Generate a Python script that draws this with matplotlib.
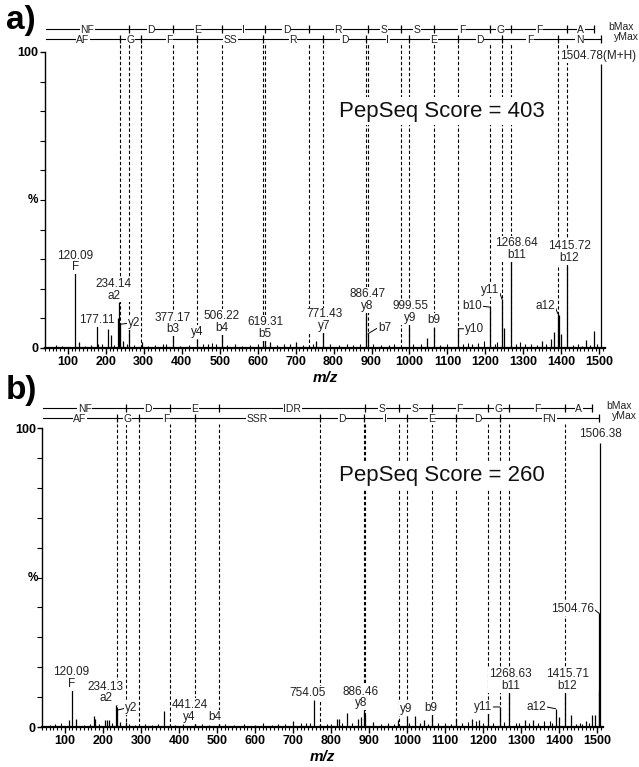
import matplotlib
matplotlib.use('Agg')
import matplotlib.pyplot as plt
from matplotlib.ticker import MultipleLocator, FixedLocator

plt.rcParams['font.family'] = ['Liberation Sans', 'DejaVu Sans']

# ---------------- data ----------------
X_MIN, X_MAX = 40, 1515

# theoretical fragment ions (m/z)
b_ions = {2: 262.12, 3: 377.15, 4: 506.19, 5: 619.27, 6: 734.30, 7: 890.40,
          8: 977.43, 9: 1064.46, 10: 1211.53, 11: 1268.55, 12: 1415.62, 13: 1486.66}
y_ions = {2: 237.12, 3: 294.15, 4: 441.21, 5: 528.25, 6: 615.28, 7: 771.38, 8: 886.41,
          9: 999.49, 10: 1128.53, 11: 1243.56, 12: 1390.63, 13: 1504.67}

# panel a
a_b_found = [2, 3, 4, 5, 6, 7, 8, 9, 10, 11, 12, 13]
a_b_letters = ["NF", "D", "E", "I", "D", "R", "S", "S", "F", "G", "F", "A"]
a_y_found = [2, 3, 4, 6, 7, 8, 9, 10, 11, 12, 13]
a_y_letters = ["AF", "G", "F", "SS", "R", "D", "I", "E", "D", "F", "N"]

a_peak_mz = [120.09, 130, 177.11, 205, 215, 232, 234.14, 237.12, 245, 262.12, 296,
             377.17, 441.21, 506.22, 615.3, 619.31, 632, 700, 755, 771.43, 886.47,
             890.40, 999.55, 1045, 1064.47, 1128.53, 1211.54, 1243.56, 1250, 1268.64,
             1350, 1372, 1380, 1390.60, 1395, 1400, 1415.72, 1465, 1485, 1504.78]
a_peak_int = [25.3, 2.0, 7.3, 6.5, 4.3, 10.0, 15.7, 8.0, 2.4, 6.5, 2.0,
              4.3, 3.1, 4.8, 2.5, 2.8, 2.0, 2.0, 2.2, 5.4, 11.9,
              4.8, 7.9, 3.5, 7.1, 6.5, 13.8, 16.5, 6.9, 29.5,
              2.4, 3.1, 5.4, 11.6, 11.0, 4.8, 28.4, 2.8, 5.7, 96.0]
a_noise_mz = [70, 85, 145, 160, 180, 190, 222, 255, 275, 310, 330, 350, 360, 395, 420,
              455, 470, 480, 490, 520, 540, 560, 580, 600, 650, 670, 685, 720, 745,
              790, 815, 835, 850, 870, 905, 925, 945, 960, 1010, 1030, 1080, 1100,
              1140, 1155, 1165, 1180, 1195, 1225, 1230, 1280, 1290, 1305, 1320, 1335,
              1360, 1430, 1445, 1455, 1475, 1495]
a_noise_int = [1.0, 0.8, 0.8, 1.0, 1.5, 1.2, 1.0, 1.2, 1.0, 0.8, 1.0, 1.2, 1.5, 0.8, 1.0,
               1.2, 1.5, 1.8, 1.2, 1.0, 1.2, 0.8, 1.0, 1.5, 1.0, 1.2, 1.5, 1.0, 1.5,
               1.2, 1.0, 1.2, 1.0, 1.5, 1.2, 1.0, 1.0, 1.2, 1.5, 1.2, 1.0, 1.2,
               1.5, 1.8, 1.5, 1.8, 2.2, 1.5, 2.0, 1.5, 2.0, 1.5, 1.2, 1.0,
               1.5, 1.0, 1.2, 0.8, 1.0, 1.5]
a_label_mz = [120.09, 177.11, 234.14, 237.12, 377.17, 441.21, 506.22, 619.31, 771.43,
              886.47, 890.40, 999.55, 1064.47, 1128.53, 1211.54, 1243.56, 1268.64,
              1390.60, 1415.72, 1504.78]
a_label_text = ["120.09\nF", "177.11", "234.14\na2", "y2", "377.17\nb3", "y4", "506.22\nb4",
                "619.31\nb5", "771.43\ny7", "886.47\ny8", "b7", "999.55\ny9", "b9", "y10",
                "b10", "y11", "1268.64\nb11", "a12", "1415.72\nb12", "1504.78(M+H)"]

# panel b
b_b_found = [2, 3, 4, 7, 8, 9, 10, 11, 12, 13]
b_b_letters = ["NF", "D", "E", "IDR", "S", "S", "F", "G", "F", "A"]
b_y_found = [2, 3, 4, 7, 8, 9, 10, 11, 13]
b_y_letters = ["AF", "G", "F", "SSR", "D", "I", "E", "D", "FN"]

b_peak_mz = [110, 120.09, 130, 177, 180, 205, 210, 215, 234.13, 237.12, 245, 262, 360,
             441.24, 506.19, 700, 754.05, 772, 815, 820, 842, 870, 880, 886.46, 890.40,
             910, 977, 999.49, 1020, 1045, 1064.46, 1128, 1170, 1190, 1211.53, 1243.56,
             1268.63, 1310, 1330, 1390.63, 1400, 1415.71, 1432, 1470, 1485, 1495,
             1504.76, 1505.5, 1506.38]
b_peak_int = [2.5, 12.5, 2.8, 3.7, 2.8, 2.5, 2.5, 2.5, 7.2, 5.6, 1.7, 1.7, 5.2,
              1.1, 1.0, 1.9, 8.9, 1.1, 2.8, 2.8, 4.8, 2.8, 3.3, 5.6, 3.9,
              1.7, 2.2, 3.7, 3.7, 2.2, 3.9, 2.8, 2.8, 2.2, 5.6, 6.7,
              11.4, 2.2, 2.5, 6.1, 3.3, 11.4, 4.1, 1.9, 3.9, 3.9,
              38.0, 12.0, 95.0]
b_noise_mz = [60, 75, 90, 150, 165, 190, 225, 270, 285, 310, 330, 345, 390, 410, 460,
              480, 520, 545, 570, 600, 620, 645, 660, 680, 720, 735, 745, 790, 800,
              830, 855, 930, 950, 965, 1005, 1035, 1055, 1080, 1100, 1115, 1145, 1160,
              1180, 1200, 1225, 1255, 1285, 1295, 1320, 1345, 1360, 1375, 1380, 1445,
              1455, 1460, 1478]
b_noise_int = [0.8, 1.0, 1.2, 0.8, 1.0, 1.0, 1.2, 1.0, 0.8, 1.0, 0.8, 1.0, 0.8, 1.0, 1.0,
               0.8, 1.0, 0.8, 1.0, 0.8, 1.2, 0.8, 1.0, 1.0, 1.2, 1.5, 1.2, 1.0, 1.0,
               1.2, 1.5, 1.0, 1.2, 1.0, 1.5, 1.2, 1.0, 1.5, 1.2, 1.0, 1.5, 1.8,
               2.0, 1.5, 1.5, 1.8, 1.5, 1.2, 1.5, 1.2, 2.0, 2.0, 1.5, 1.0,
               1.2, 1.0, 1.5]
b_label_mz = [120.09, 234.13, 237.12, 441.24, 506.19, 754.05, 886.46, 999.49, 1064.46,
              1243.56, 1268.63, 1390.63, 1415.71, 1504.76, 1506.38]
b_label_text = ["120.09\nF", "234.13\na2", "y2", "441.24\ny4", "b4", "754.05", "886.46\ny8",
                "y9", "b9", "y11", "1268.63\nb11", "a12", "1415.71\nb12", "1504.76", "1506.38"]

# ---------------- styles ----------------
PX = 0.72  # points per pixel at dpi 100
a_label_style = [('top', 0, 0), ('top', 0, 0), ('top', -5, 0), ('right', 8, 1),
                 ('top', 0, 0), ('top', 0, 1), ('top', 0, 0), ('top', 0, 0), ('top', 2, 0),
                 ('top', 1, 1), ('right', 10, 6), ('top', 1, 1), ('top', 0, 1), ('right', 7, 0),
                 ('left', -8, 1), ('left', -3, 9), ('top', 5, 0), ('left', -3, 8),
                 ('top', 2, 0), ('top', -3, 2)]
b_label_style = [('top', -1, 0), ('top', -10, 1), ('right', 8, 2), ('top', -5, 1),
                 ('top', -4, 1), ('top', -6, 1), ('top', -3, 1), ('top', -1, 1),
                 ('top', -1, 1), ('left', -8, 0), ('top', 1, 1), ('left', -10, 2),
                 ('top', 2, 1), ('left', -5, 4), ('top', 1, 3)]

TXT = '#222222'

fig = plt.figure(figsize=(6.39, 7.67), dpi=100)


def setup_axes(rect):
    ax = fig.add_axes(rect)
    ax.set_xlim(X_MIN, X_MAX)
    ax.set_ylim(0, 100)
    for s in ['top', 'right']:
        ax.spines[s].set_visible(False)
    ax.spines['bottom'].set_linewidth(1.6)
    ax.spines['left'].set_linewidth(1.0)
    ax.xaxis.set_major_locator(MultipleLocator(100))
    ax.xaxis.set_minor_locator(MultipleLocator(10))
    ax.yaxis.set_major_locator(FixedLocator([0, 100]))
    ax.yaxis.set_minor_locator(MultipleLocator(10))
    ax.tick_params(axis='x', which='major', length=4, width=1.0, labelsize=9, pad=2, colors='k')
    ax.tick_params(axis='x', which='minor', length=2.5, width=0.8)
    ax.tick_params(axis='y', which='major', length=3.5, width=1.0, labelsize=9, pad=1)
    ax.tick_params(axis='y', which='minor', length=3.5, width=0.8)
    for lab in ax.get_xticklabels() + ax.get_yticklabels():
        lab.set_fontweight('bold')
    ax.set_xlabel('m/z', fontsize=11, fontweight='bold', fontstyle='italic', labelpad=2)
    ax.patch.set_alpha(0)
    return ax


def draw_panel(ax, peak_mz, peak_int, noise_mz, noise_int, b_found, b_letters,
               y_found, y_letters, label_mz, label_text, label_style, y_b, y_y):
    # dashed ion lines
    dash_mz = [b_ions[k] for k in b_found[:-1]] + [y_ions[k] for k in y_found[:-1]]
    ax.vlines(dash_mz, 0, y_y - 1.8, colors='k', linestyles=(0, (3, 2)), lw=0.8,
              clip_on=False, zorder=1)
    # peaks
    ax.vlines(noise_mz, 0, noise_int, colors='k', lw=0.8, zorder=3)
    ax.vlines(peak_mz, 0, peak_int, colors='k', lw=0.9, zorder=3)

    # ladders
    for yl, found, ions, letters, name in [(y_b, b_found, b_ions, b_letters, 'bMax'),
                                            (y_y, y_found, y_ions, y_letters, 'yMax')]:
        bounds = [ions[k] for k in found]
        ax.plot([X_MIN + 2, bounds[-1]], [yl, yl], color='k', lw=0.8, clip_on=False, zorder=5)
        ax.plot(bounds, [yl] * len(bounds), ls='none', marker='|', ms=6, mew=0.9,
                color='k', clip_on=False, zorder=5)
        edges = [X_MIN + 2] + bounds
        for i, let in enumerate(letters):
            xm = 0.5 * (edges[i] + edges[i + 1])
            ax.text(xm, yl, let, ha='center', va='center_baseline', fontsize=7.5,
                    color=TXT, clip_on=False, zorder=6,
                    bbox=dict(boxstyle='square,pad=0.05', fc='white', ec='none'))
        ax.annotate(name, xy=(bounds[-1], yl), xytext=(10 if name == 'bMax' else 9, 1.5),
                    textcoords='offset points', ha='left', va='center', fontsize=7.5,
                    color=TXT, annotation_clip=False)

    # peak labels
    lookup = dict(zip(peak_mz, peak_int))
    for mz, txt, (kind, dx, dy) in zip(label_mz, label_text, label_style):
        inten = lookup.get(mz, 0)
        bb = dict(boxstyle='square,pad=0.08', fc='white', ec='none')
        if kind == 'top':
            ax.annotate(txt, xy=(mz, inten), xytext=(dx * PX, dy * PX), textcoords='offset points',
                        ha='center', va='bottom', fontsize=8.5, color=TXT, linespacing=0.95,
                        bbox=bb, zorder=4, annotation_clip=False)
        else:
            ha = 'left' if kind == 'right' else 'right'
            rel = (0, 0.5) if kind == 'right' else (1, 0.5)
            ax.annotate(txt, xy=(mz, inten), xytext=(dx * PX, dy * PX), textcoords='offset points',
                        ha=ha, va='center', fontsize=8.5, color=TXT, bbox=bb, zorder=4,
                        annotation_clip=False,
                        arrowprops=dict(arrowstyle='-', lw=0.7, color='k', shrinkA=0,
                                        shrinkB=0, relpos=rel))


ax_a = setup_axes([45 / 639, 1 - 348 / 767, 560 / 639, 296 / 767])
draw_panel(ax_a, a_peak_mz, a_peak_int, a_noise_mz, a_noise_int, a_b_found, a_b_letters,
           a_y_found, a_y_letters, a_label_mz, a_label_text, a_label_style, 107.8, 104.4)
ax_a.text(0.525, 0.80, 'PepSeq Score = 403', transform=ax_a.transAxes, ha='left',
          va='center', fontsize=16, color='#111111', zorder=6,
          bbox=dict(boxstyle='square,pad=0.15', fc='white', ec='none'))

ax_b = setup_axes([42 / 639, 1 - 727 / 767, 561 / 639, 299 / 767])
draw_panel(ax_b, b_peak_mz, b_peak_int, b_noise_mz, b_noise_int, b_b_found, b_b_letters,
           b_y_found, b_y_letters, b_label_mz, b_label_text, b_label_style, 106.7, 103.3)
ax_b.text(0.53, 0.84, 'PepSeq Score = 260', transform=ax_b.transAxes, ha='left',
          va='center', fontsize=16, color='#111111', zorder=6,
          bbox=dict(boxstyle='square,pad=0.15', fc='white', ec='none'))

fig.text(33 / 639, 1 - 200 / 767, '%', ha='center', va='center', fontsize=8.5, fontweight='bold')
fig.text(33 / 639, 1 - 578 / 767, '%', ha='center', va='center', fontsize=8.5, fontweight='bold')
fig.text(6 / 639, 1 - 21 / 767, 'a)', ha='left', va='center', fontsize=24, fontweight='bold')
fig.text(6 / 639, 1 - 390 / 767, 'b)', ha='left', va='center', fontsize=24, fontweight='bold')

fig.savefig('out.png', dpi=100)
